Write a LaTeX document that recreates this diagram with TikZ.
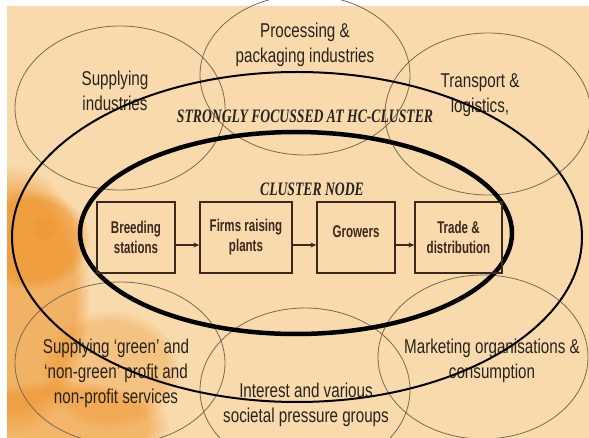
\documentclass[tikz,border=0pt]{standalone}
\usepackage{fontspec}
\setmainfont{Liberation Sans}
\newfontfamily\outerfont[FakeStretch=0.76]{Liberation Sans}
\newfontfamily\boxfont[FakeStretch=0.68]{Liberation Sans}
\newfontfamily\labfont[FakeStretch=0.72]{Liberation Serif}
\usetikzlibrary{arrows.meta,fadings}
\definecolor{bg}{RGB}{248,218,172}
\definecolor{blob}{RGB}{238,140,30}
\definecolor{thinc}{RGB}{125,105,80}
\definecolor{ink}{RGB}{40,35,30}
\definecolor{boxline}{RGB}{60,40,30}
\begin{document}
\begin{tikzpicture}[x=1pt,y=-1pt,
 thinell/.style={draw=thinc, line width=0.8pt},
 outertext/.style={font=\outerfont\fontsize{20}{25}\selectfont, text=ink, align=center, inner sep=0pt},
 stepbox/.style={draw=boxline, line width=1.3pt, minimum height=71pt, inner sep=0pt, font=\boxfont\bfseries\fontsize{17}{20}\selectfont, text=boxline, align=center},
 arr/.style={-{Stealth[length=6pt,width=5pt]}, line width=1.2pt, draw=boxline},
 lab/.style={font=\labfont\bfseries\itshape\fontsize{19}{20}\selectfont, text=ink, inner sep=0pt},
 blobfill/.style={fill=blob, path fading=circle with fuzzy edge 20 percent}]
\useasboundingbox (0,0) rectangle (589,438);
\fill[white] (0,0) rectangle (589,438);
\fill[bg] (7,6) rectangle (589,438);
\begin{scope}
\clip (7,6) rectangle (589,438);
\fill[blobfill, opacity=0.5] (15,300) ellipse [x radius=75pt, y radius=135pt];
\fill[blobfill, opacity=0.5] (30,240) ellipse [x radius=60pt, y radius=50pt];
\fill[blobfill, opacity=0.45] (60,425) ellipse [x radius=110pt, y radius=45pt];
\fill[blobfill, opacity=0.3] (110,370) ellipse [x radius=70pt, y radius=60pt];
\fill[blobfill, opacity=0.2] (45,228) circle [radius=12pt];
\end{scope}
% surrounding ellipses
\draw[thinell] (120,108) ellipse [x radius=105pt, y radius=82pt];
\draw[thinell] (305,75) ellipse [x radius=105pt, y radius=80pt];
\draw[thinell] (488,114) ellipse [x radius=103pt, y radius=81pt];
\draw[thinell] (120,363) ellipse [x radius=105pt, y radius=81pt];
\draw[thinell] (305,390) ellipse [x radius=105pt, y radius=82pt];
\draw[thinell] (483,357) ellipse [x radius=105pt, y radius=82pt];
% outer texts
\node[outertext] (proc) at (305,45) {Processing \&\\packaging industries};
\node[outertext] (supind) at (115,91) {Supplying\\industries};
\node[outertext] (trans) at (480,95) {Transport \&\\logistics,};
\node[outertext] (supgreen) at (116,373) {Supplying ‘green’ and\\‘non-green’ profit and\\non-profit services};
\node[outertext] (inter) at (306,405) {Interest and various\\societal pressure groups};
\node[outertext] (market) at (492,361) {Marketing organisations \&\\consumption};
% cluster ellipses
\draw[line width=2pt, black] (297,237) ellipse [x radius=285pt, y radius=165pt];
\draw[line width=4.5pt, black] (296,233) ellipse [x radius=216pt, y radius=101pt];
\node[lab] (strong) at (305,116) {STRONGLY FOCUSSED AT HC-CLUSTER};
\node[lab] (cnode) at (312,189) {CLUSTER NODE};
% chain
\node[stepbox, minimum width=78pt] (b1) at (136,237.5) {Breeding\\stations};
\node[stepbox, minimum width=92pt] (b2) at (246,237.5) {Firms raising\\plants};
\node[stepbox, minimum width=78pt] (b3) at (356,237.5) {Growers\\[-9pt]\mbox{}};
\node[stepbox, minimum width=87pt] (b4) at (458.5,237.5) {Trade \&\\distribution};
\draw[arr] ([yshift=-7.5pt]b1.east) -- ([yshift=-7.5pt]b2.west);
\draw[arr] ([yshift=-7.5pt]b2.east) -- ([yshift=-7.5pt]b3.west);
\draw[arr] ([yshift=-7.5pt]b3.east) -- ([yshift=-7.5pt]b4.west);
\end{tikzpicture}
\end{document}
